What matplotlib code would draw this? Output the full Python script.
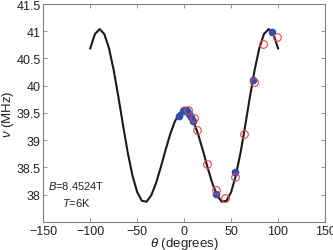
import matplotlib
matplotlib.use('Agg')
import matplotlib.pyplot as plt
from matplotlib.ticker import FormatStrFormatter

plt.rcParams['font.family'] = ['Liberation Sans', 'DejaVu Sans']
plt.rcParams['mathtext.fontset'] = 'custom'
plt.rcParams['mathtext.rm'] = 'Liberation Sans'
plt.rcParams['mathtext.it'] = 'Liberation Sans:italic'

# fitted curve (every 5 degrees)
theta_fit = [-100, -95, -90, -85, -80, -75, -70, -65, -60, -55, -50, -45, -40, -35, -30, -25, -20, -15, -10, -5,
             0, 5, 10, 15, 20, 25, 30, 35, 40, 45, 50, 55, 60, 65, 70, 75, 80, 85, 90, 95, 100]
nu_fit = [40.686, 40.949, 41.040, 40.949, 40.686, 40.284, 39.791, 39.266, 38.767, 38.347, 38.046, 37.886, 37.871,
          37.988, 38.209, 38.497, 38.808, 39.102, 39.341, 39.496,
          39.550, 39.496, 39.341, 39.102, 38.808, 38.497, 38.209, 37.988, 37.871, 37.886, 38.046, 38.347, 38.767,
          39.266, 39.791, 40.284, 40.686, 40.949, 41.040, 40.949, 40.686]

# measured points
theta_blue = [-6, -1.5, 0, 1.5, 3, 5, 7, 9, 34, 54, 73, 94]
nu_blue = [39.45, 39.54, 39.56, 39.55, 39.53, 39.48, 39.42, 39.35, 38.02, 38.41, 40.10, 40.99]
theta_red = [4, 10, 14, 24, 34, 44, 54, 64, 74, 84, 99]
nu_red = [39.55, 39.40, 39.18, 38.57, 38.08, 37.94, 38.32, 39.12, 40.07, 40.76, 40.89]

fig = plt.figure(figsize=(3.33, 2.51), dpi=100)
ax = fig.add_axes([0.130, 0.112, 0.846, 0.868])

ax.plot(theta_fit, nu_fit, color='#1a1a1a', lw=1.5, zorder=2)
ax.plot(theta_blue, nu_blue, 'o', color='#2f4fb0', ms=4.5, mec='#2f4fb0', zorder=3)
ax.plot(theta_red, nu_red, 'o', mfc='none', mec='#ee4444', ms=5.5, mew=0.8, zorder=4)

ax.set_xlim(-150, 150)
ax.set_ylim(37.5, 41.5)
ax.set_xticks([-150, -100, -50, 0, 50, 100, 150])
ax.set_yticks([38, 38.5, 39, 39.5, 40, 40.5, 41, 41.5])
ax.yaxis.set_major_formatter(FormatStrFormatter('%g'))
ax.set_xticklabels(['\u2212150', '\u2212100', '\u221250', '0', '50', '100', '150'])

for s in ax.spines.values():
    s.set_color('#808080')
    s.set_linewidth(0.8)
ax.tick_params(direction='in', top=True, right=True, length=3, width=0.6, color='#808080',
               labelsize=9, labelcolor='#222222', pad=2)

ax.set_xlabel(r'$\it{\theta}$ (degrees)', fontsize=9.5, labelpad=-1, color='#222222')
ax.set_ylabel(r'$\it{\nu}$ (MHz)', fontsize=9.5, labelpad=0, color='#222222')

ax.text(-115, 38.17, r'$\it{B}$=8.4524T', fontsize=8, ha='center', va='center', color='#222222')
ax.text(-115, 37.87, r'$\it{T}$=6K', fontsize=8, ha='center', va='center', color='#222222')

plt.savefig('out.png', dpi=100)
